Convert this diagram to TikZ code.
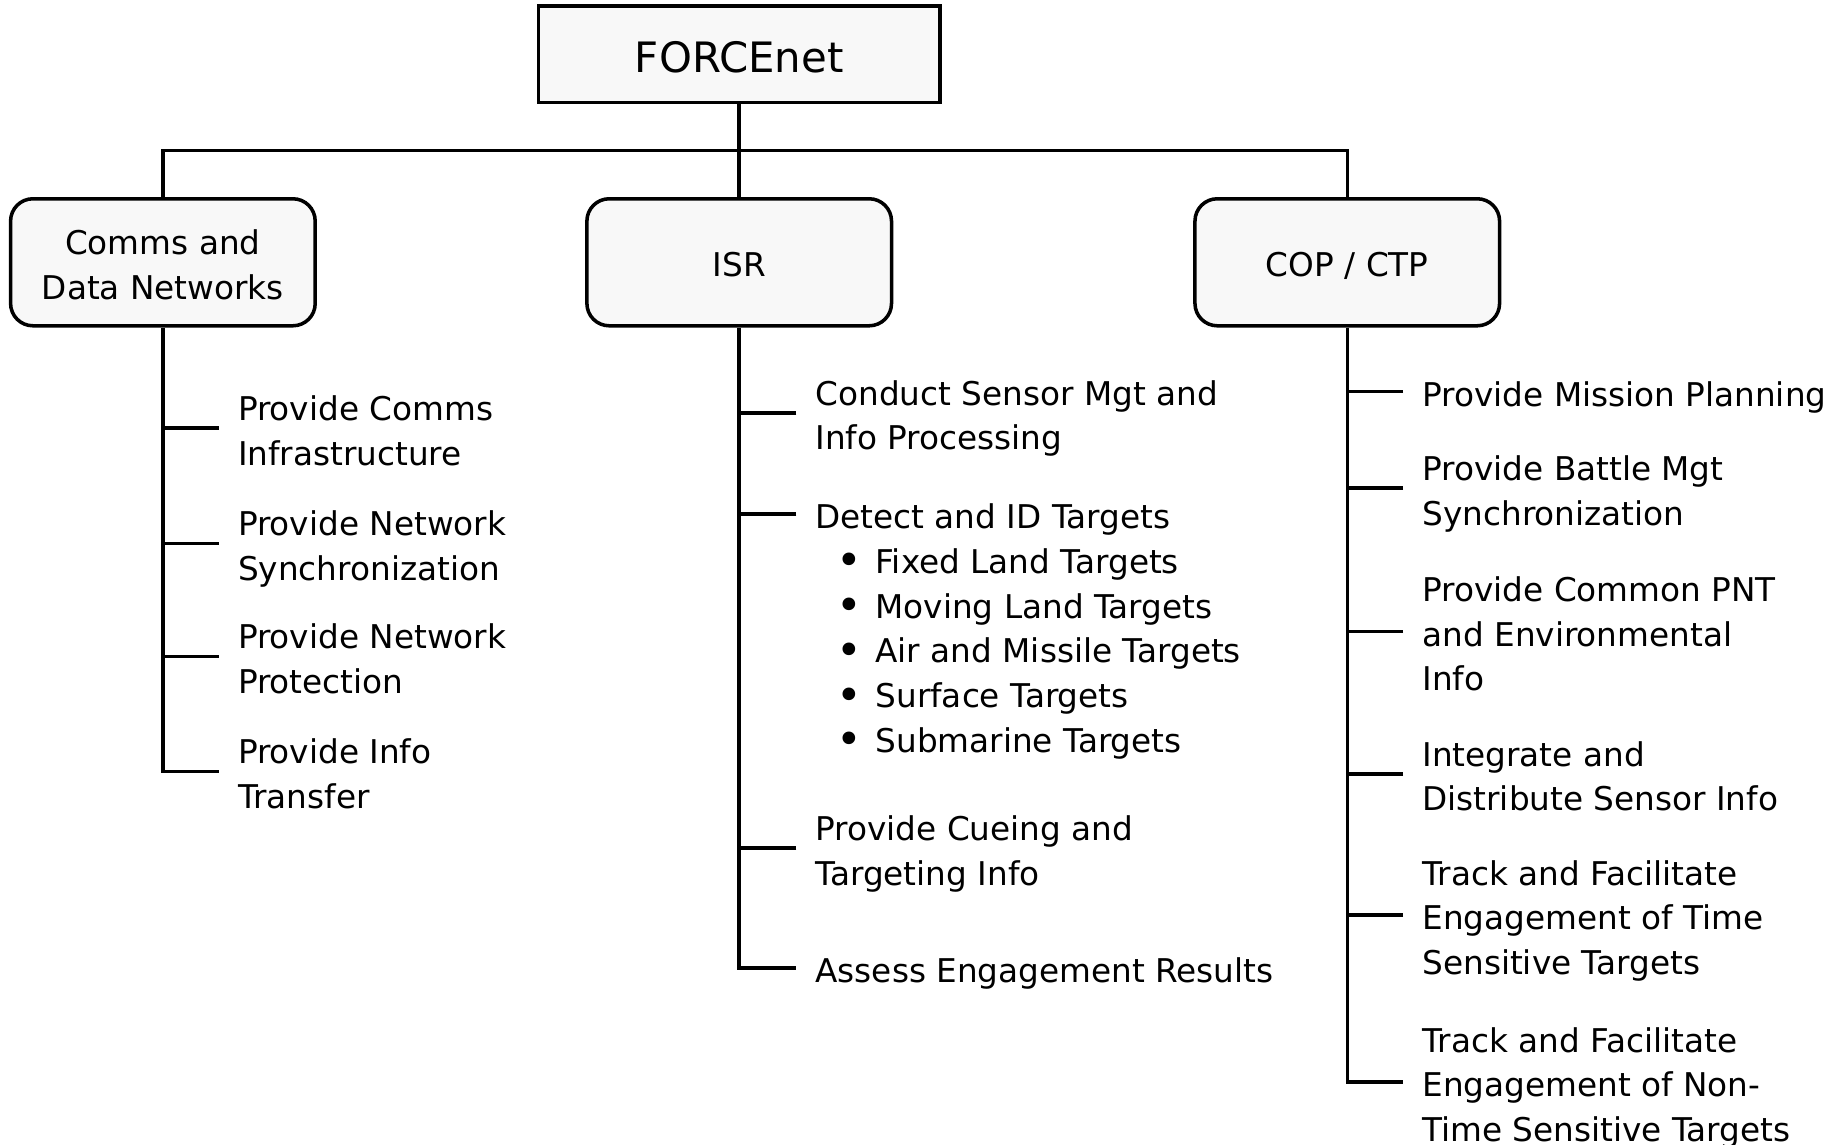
\documentclass[tikz,border=0pt]{standalone}
\usepackage{fontspec}
\setmainfont{DejaVu Sans}
\definecolor{boxfill}{RGB}{248,248,248}
\newcommand\fs{\rule[-3.25pt]{0pt}{19pt}}
\newcommand\bul{\makebox[16.5pt][l]{\raisebox{-1.1pt}{\fontsize{18.5}{19}\selectfont •}}}
\tikzset{
  conn/.style={line width=1.5pt},
  topbox/.style={draw, line width=1.5pt, fill=boxfill, minimum width=170.5pt, minimum height=41pt,
    inner sep=0pt, font=\fontsize{17.8}{21}\selectfont},
  catbox/.style={draw, line width=1.5pt, fill=boxfill, rounded corners=9.5pt, minimum width=129.5pt,
    minimum height=54pt, inner sep=0pt, align=center, font=\fontsize{13.9}{19.5}\selectfont},
  item/.style={anchor=west, align=left, inner xsep=8pt, inner ysep=0pt, font=\fontsize{13.9}{19}\selectfont},
}
\begin{document}
\begin{tikzpicture}[x=0.5pt, y=-0.5pt]
\useasboundingbox (0,0) rectangle (1567,973.5);
% top
\node[topbox] (force) at (628.5,46) {\rule{0pt}{15.5pt}FORCEnet};
\node[catbox] (comms) at (138.5,223) {\fs Comms and\\Data Networks\fs};
\node[catbox] (isr) at (628.5,223) {\fs ISR\fs};
\node[catbox] (cop) at (1145.5,223) {\fs COP / CTP\fs};
\coordinate (bar) at (628.5,128);
\draw[conn] (force.south) -- (isr.north);
\draw[conn] (comms.north) |- (bar) -| (cop.north);
% left column
\node[item] (c1) at (186,364) {\fs Provide Comms\\Infrastructure\fs};
\node[item] (c2) at (186,462) {\fs Provide Network\\Synchronization\fs};
\node[item] (c3) at (186,558) {\fs Provide Network\\Protection\fs};
\node[item] (c4) at (186,656) {\fs Provide Info\\Transfer\fs};
\draw[conn] (comms.south) |- (c4.west);
\foreach \n in {c1,c2,c3} \draw[conn] (\n.west) -- (\n.west -| comms.south);
% middle column
\node[item] (m1) at (677,351) {\fs Conduct Sensor Mgt and\\Info Processing\fs};
\node[item] (m2) at (677,437) {\fs Detect and ID Targets\fs};
\node[item] (m2b) at (695,551) {\fs\bul Fixed Land Targets\\\bul Moving Land Targets\\\bul Air and Missile Targets\\\bul Surface Targets\\\bul Submarine Targets\fs};
\node[item] (m3) at (677,721) {\fs Provide Cueing and\\Targeting Info\fs};
\node[item] (m4) at (677,823) {\fs Assess Engagement Results\fs};
\draw[conn] (isr.south) |- (m4.west);
\foreach \n in {m1,m2,m3} \draw[conn] (\n.west) -- (\n.west -| isr.south);
% right column
\node[item] (r1) at (1193,333) {\fs Provide Mission Planning\fs};
\node[item] (r2) at (1193,415) {\fs Provide Battle Mgt\\Synchronization\fs};
\node[item] (r3) at (1193,537) {\fs Provide Common PNT\\and Environmental\\Info\fs};
\node[item] (r4) at (1193,658) {\fs Integrate and\\Distribute Sensor Info\fs};
\node[item] (r5) at (1193,778) {\fs Track and Facilitate\\Engagement of Time\\Sensitive Targets\fs};
\node[item] (r6) at (1193,920) {\fs Track and Facilitate\\Engagement of Non-\\Time Sensitive Targets\fs};
\draw[conn] (cop.south) |- (r6.west);
\foreach \n in {r1,r2,r3,r4,r5} \draw[conn] (\n.west) -- (\n.west -| cop.south);
\end{tikzpicture}
\end{document}
